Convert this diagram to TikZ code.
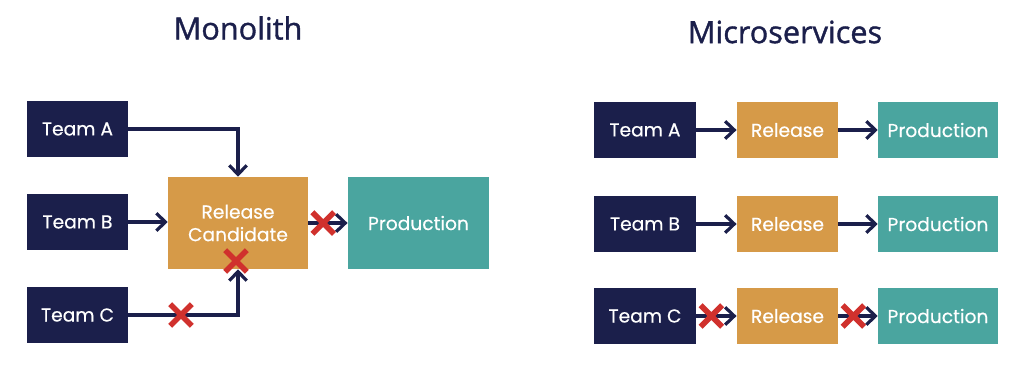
\documentclass[tikz,border=0pt]{standalone}
\usepackage{fontspec}
\setmainfont{Poppins}[FakeBold=0.4]
\newfontfamily\titlefont{Open Sans}[FakeBold=1.2]
\usetikzlibrary{arrows.meta, shapes.misc}
\definecolor{cnavy}{HTML}{1B1F4B}
\definecolor{corange}{HTML}{D69A48}
\definecolor{cteal}{HTML}{4AA59F}
\definecolor{cred}{HTML}{D0312D}
\tikzset{
  box/.style={fill=#1, text=white, align=center, inner sep=0pt, font=\fontsize{14}{17}\selectfont},
  team/.style={box=cnavy, minimum width=76pt, minimum height=42pt},
  release/.style={box=corange, minimum width=76pt, minimum height=42pt},
  prod/.style={box=cteal, minimum width=90pt, minimum height=42pt},
  arrow/.style={-{Straight Barb[length=2.4mm, width=4.6mm, line width=2.4pt]}, draw=cnavy, line width=2.4pt},
  blocked/.style={cross out, draw=cred, line width=4.2pt, minimum size=12pt, inner sep=0pt},
  title/.style={font=\titlefont\fontsize{23}{27}\selectfont, text=cnavy},
}
\begin{document}
\begin{tikzpicture}[x=0.75pt, y=-0.75pt]
  \useasboundingbox (0,0) rectangle (1024,372);
  % monolith
  \node[title] (montitle) at (238,28) {Monolith};
  \node[team] (ta) at (77.5,129) {Team A};
  \node[team] (tb) at (77.5,222) {Team B};
  \node[team] (tc) at (77.5,315) {Team C};
  \node[box=corange, minimum width=105pt, minimum height=69pt] (rc) at (238,223) {Release\\Candidate};
  \node[box=cteal, minimum width=106pt, minimum height=69pt] (mprod) at (418.5,223) {Production};
  \draw[arrow] (ta.east) -| (rc.north);
  \draw[arrow] (tb.east) -- (tb.east -| rc.west);
  \draw[arrow] (tc.east) -| node[blocked, pos=0.24] (xc) {} (rc.south);
  \draw[arrow] (rc.east |- mprod) -- node[blocked, pos=0.38] (xrc) {} (mprod.west);
  \node[blocked] (xin) at (236,261) {};
  % microservices
  \node[title] (mictitle) at (785,32) {Microservices};
  \foreach \t/\y in {A/130, B/224, C/316} {
    \node[team] (t\t) at (645,\y) {Team \t};
    \node[release] (r\t) at (787.5,\y) {Release};
    \node[prod] (p\t) at (938,\y) {Production};
  }
  \draw[arrow] (tA) -- (rA);
  \draw[arrow] (rA) -- (pA);
  \draw[arrow] (tB) -- (rB);
  \draw[arrow] (rB) -- (pB);
  \draw[arrow] (tC) -- node[blocked, pos=0.38] (xt) {} (rC);
  \draw[arrow] (rC) -- node[blocked, pos=0.38] (xr) {} (pC);
\end{tikzpicture}
\end{document}
